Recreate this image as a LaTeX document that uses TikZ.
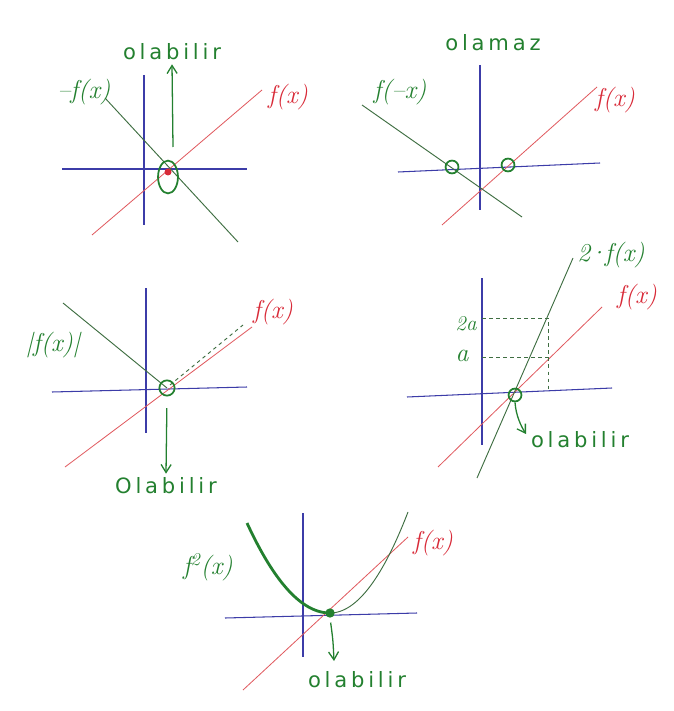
\documentclass[tikz,border=0pt]{standalone}
\usepackage{fontspec}
\newfontfamily\hand[LetterSpace=18]{DejaVu Sans}
\usetikzlibrary{arrows.meta,shapes.geometric}
\definecolor{cax}{HTML}{3C3CA8}
\definecolor{cfn}{HTML}{E05A5F}
\definecolor{cfnt}{HTML}{D82A38}
\definecolor{cgr}{HTML}{23802F}
\definecolor{cgl}{HTML}{3F6E42}
\tikzset{
  every picture/.style={>={Straight Barb[length=2.4mm,width=3mm]}},
  axis/.style={cax, line width=0.9pt},
  fx/.style={cfn, line width=0.7pt},
  gx/.style={cgl, line width=0.8pt},
  ring/.style={circle, draw=cgr, line width=1.5pt, inner sep=0pt, minimum size=11pt},
  pointer/.style={cgr, line width=1.1pt, ->},
  word/.style={cgr, font=\hand\fontsize{18}{22}\selectfont},
  lbl/.style={cgr, font=\itshape\fontsize{22}{24}\selectfont},
  lblr/.style={cfnt, font=\itshape\fontsize{22}{24}\selectfont},
}
\newcommand{\bbox}{\path[use as bounding box] (0,0) rectangle (673,711);}

\begin{document}
\begin{tikzpicture}[x=0.03cm, y=-0.03cm]
  \bbox
  % -f(x)
  \draw[axis] (144,75) -- (144,225);
  \draw[axis] (62,169) -- (247,169);
  \draw[fx] (92,235) -- (262,90);
  \draw[gx] (105,98) -- (238,242);
  \node[ring, ellipse, minimum width=17pt, minimum height=28pt] (e1) at (168,177) {};
  \fill[cfnt] (168,172) circle (3.5);
  \node[word] (ok1) at (172,52) {olabilir};
  \coordinate (a1) at (173,147);
  \draw[pointer] (a1) -- (ok1.south);
  \node[lbl] (g1) at (84,92) {–f(x)};
  \node[lblr] (f1) at (288,97) {f(x)};
  % f(-x)
  \draw[axis] (480,65) -- (480,210);
  \draw[axis] (398,172) -- (600,163);
  \draw[fx] (442,225) -- (597,87);
  \draw[gx] (362,105) -- (522,217);
  \node[ring] (o2a) at (452,167) {};
  \node[ring] (o2b) at (508,165) {};
  \node[word] (no2) at (493,43) {olamaz};
  \node[lbl] (g2) at (400,92) {f(–x)};
  \node[lblr] (f2) at (615,100) {f(x)};
  % |f(x)|
  \draw[axis] (146,288) -- (146,433);
  \draw[axis] (52,392) -- (247,387);
  \draw[fx] (65,467) -- (252,327);
  \draw[gx] (63,303) -- (167,388);
  \draw[gx, dashed] (170,385) -- (243,325);
  \node[ring, minimum size=13pt] (o3) at (167,388) {};
  \node[word] (ok3) at (166,486) {Olabilir};
  \draw[pointer, shorten <=10pt] (o3.south) -- (ok3.north);
  \node[lbl] (g3) at (53,345) {|f(x)|};
  \node[lblr] (f3) at (273,312) {f(x)};
  % 2 f(x)
  \draw[axis] (482,278) -- (482,445);
  \draw[axis] (407,397) -- (612,388);
  \draw[fx] (438,467) -- (602,307);
  \draw[gx] (477,478) -- (573,258);
  \draw[gx, dashed] (482,318) -- (548,318) -- (548,391);
  \draw[gx, dashed] (482,357) -- (548,357);
  \node[ring] (o4) at (515,395) {};
  \node[word] (ok4) at (580,440) {olabilir};
  \coordinate (h4) at (526,434);
  \draw[pointer] (o4.south) .. controls (516,416) and (521,426) .. (h4);
  \node[lbl, font=\itshape\fontsize{18}{20}\selectfont] (y4b) at (466,324) {2a};
  \node[lbl, font=\itshape\fontsize{22}{24}\selectfont] (y4a) at (462,356) {a};
  \node[lbl] (g4) at (611,255) {2{\kern-2pt}·{\kern-2pt}f(x)};
  \node[lblr] (f4) at (637,297) {f(x)};
  % f^2(x)
  \draw[axis] (303,513) -- (303,657);
  \draw[axis] (225,618) -- (417,613);
  \draw[fx] (243,690) -- (408,537);
  \draw[gx, cgr, line width=2.4pt] plot[domain=-83:0, samples=40] ({330+\x},{613-0.01306*\x*\x});
  \draw[gx] plot[domain=0:78, samples=40] ({330+\x},{613-0.0166*\x*\x});
  \node[circle, fill=cgr, inner sep=0pt, minimum size=8pt] (d5) at (330,613) {};
  \node[word] (ok5) at (357,680) {olabilir};
  \coordinate (h5) at (334,661);
  \draw[pointer, shorten <=4pt] (d5.south) .. controls (333,640) .. (h5);
  \node[lbl] (g5) at (208,567) {f\textsuperscript{2}(x)};
  \node[lblr] (f5) at (433,543) {f(x)};
\end{tikzpicture}
\end{document}
